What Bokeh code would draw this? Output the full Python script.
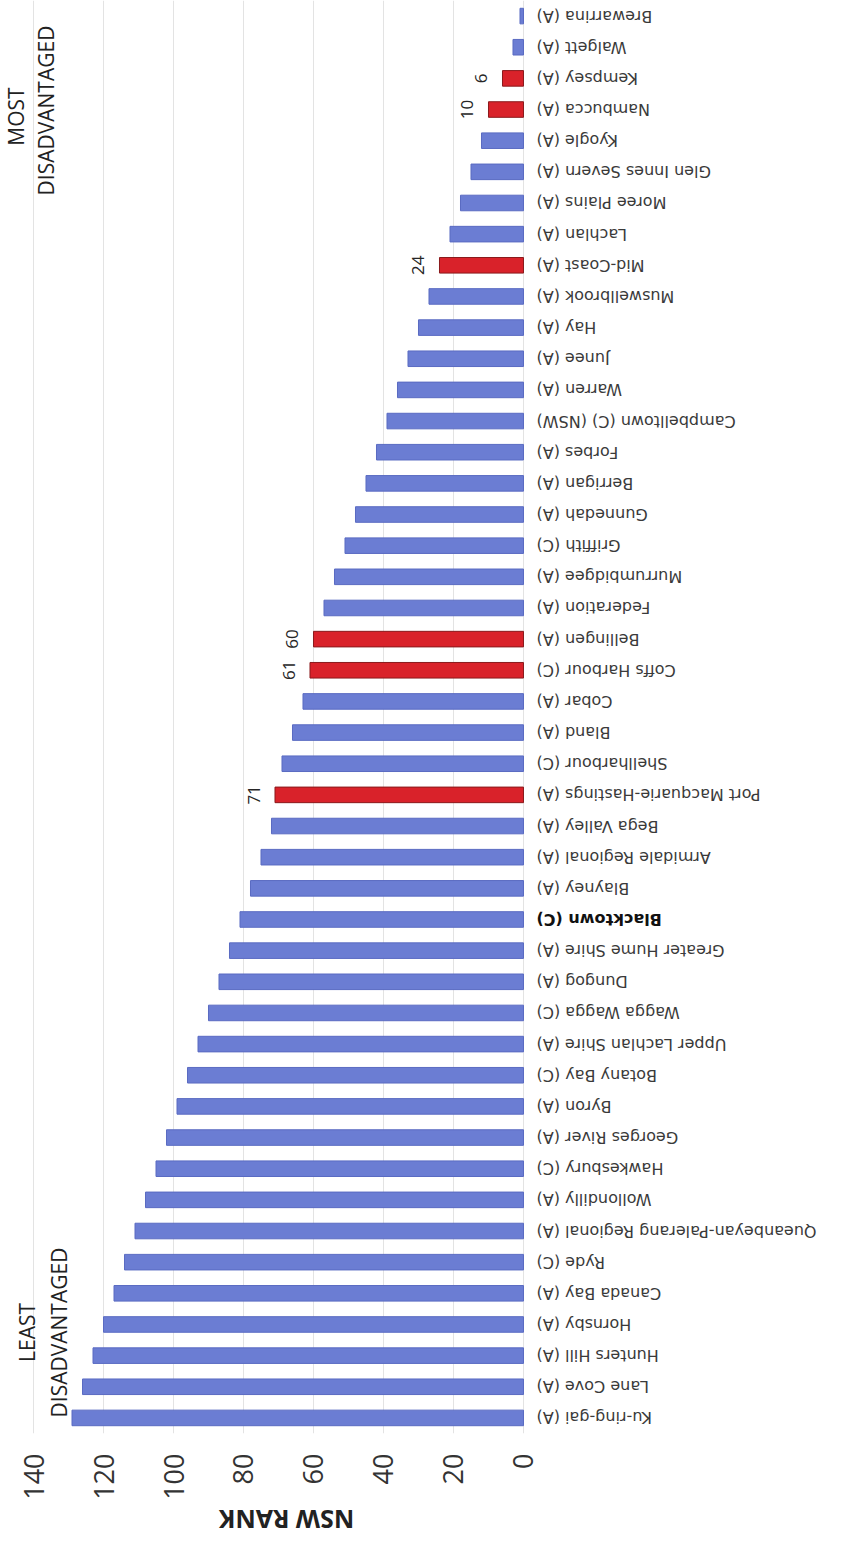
import math
from bokeh.plotting import figure
from bokeh.layouts import column
from bokeh.models import ColumnDataSource, FactorRange, Range1d, FixedTicker, Label
from bokeh.core.properties import value
from bokeh.embed import file_html
from bokeh.resources import INLINE

# Councils from most disadvantaged (top) to least disadvantaged (bottom)
councils = [
    "Brewarrina (A)", "Walgett (A)", "Kempsey (A)", "Nambucca (A)", "Kyogle (A)",
    "Glen Innes Severn (A)", "Moree Plains (A)", "Lachlan (A)", "Mid-Coast (A)",
    "Muswellbrook (A)", "Hay (A)", "Junee (A)", "Warren (A)", "Campbelltown (C) (NSW)",
    "Forbes (A)", "Berrigan (A)", "Gunnedah (A)", "Griffith (C)", "Murrumbidgee (A)",
    "Federation (A)", "Bellingen (A)", "Coffs Harbour (C)", "Cobar (A)", "Bland (A)",
    "Shellharbour (C)", "Port Macquarie-Hastings (A)", "Bega Valley (A)",
    "Armidale Regional (A)", "Blayney (A)", "Blacktown (C)", "Greater Hume Shire (A)",
    "Dungog (A)", "Wagga Wagga (C)", "Upper Lachlan Shire (A)", "Botany Bay (C)",
    "Byron (A)", "Georges River (A)", "Hawkesbury (C)", "Wollondilly (A)",
    "Queanbeyan-Palerang Regional (A)", "Ryde (C)", "Canada Bay (A)", "Hornsby (A)",
    "Hunters Hill (A)", "Lane Cove (A)", "Ku-ring-gai (A)",
]
ranks = [
    1, 3, 6, 10, 12, 15, 18, 21, 24, 27, 30, 33, 36, 39, 42, 45, 48, 51, 54, 57,
    60, 61, 63, 66, 69, 71, 72, 75, 78, 81, 84, 87, 90, 93, 96, 99, 102, 105, 108,
    111, 114, 117, 120, 123, 126, 129,
]
highlighted = ["Kempsey (A)", "Nambucca (A)", "Mid-Coast (A)", "Bellingen (A)",
               "Coffs Harbour (C)", "Port Macquarie-Hastings (A)"]
bold_councils = ["Blacktown (C)"]
tick_values = [0, 20, 40, 60, 80, 100, 120, 140]
axis_title = "NSW RANK"

BLUE, BLUE_LINE = "#6b7dd3", "#5a6bc2"
RED, RED_LINE = "#d9222a", "#8a1a1c"

src = ColumnDataSource(dict(
    council=councils,
    rank=ranks,
    fill=[RED if c in highlighted else BLUE for c in councils],
    line=[RED_LINE if c in highlighted else BLUE_LINE for c in councils],
    lcolor=["#111111" if c in bold_councils else "#3a3a3a" for c in councils],
    lstyle=["bold" if c in bold_councils else "normal" for c in councils],
))
hi_src = ColumnDataSource(dict(
    council=[c for c in councils if c in highlighted],
    rank=[r for c, r in zip(councils, ranks) if c in highlighted],
    txt=[str(r) for c, r in zip(councils, ranks) if c in highlighted],
))

p = figure(
    width=825, height=1503,
    y_range=FactorRange(factors=list(reversed(councils))),
    x_range=Range1d(149.43, -86.29),
    output_backend="svg", toolbar_location=None,
    y_axis_location=None,
    min_border_left=0, min_border_right=0, min_border_top=0, min_border_bottom=70,
)
p.outline_line_color = None
p.background_fill_color = "white"

ticker = FixedTicker(ticks=tick_values)
p.xaxis.ticker = ticker
p.xgrid.ticker = ticker
p.xgrid.grid_line_color = "#e3e3e3"
p.ygrid.grid_line_color = None
p.xaxis.axis_line_color = None
p.xaxis.major_tick_line_color = None
p.xaxis.minor_tick_line_color = None
p.xaxis.major_tick_out = 0
p.xaxis.major_tick_in = 0
p.xaxis.minor_tick_out = 0
p.xaxis.minor_tick_in = 0
p.xaxis.major_label_orientation = math.pi / 2
p.xaxis.major_label_text_font = "Open Sans"
p.xaxis.major_label_text_font_size = "27px"
p.xaxis.major_label_text_color = "#333333"
p.xaxis.major_label_standoff = 20

p.hbar(y="council", left=0, right="rank", height=0.5,
       fill_color="fill", line_color="line", line_width=1, source=src)

p.text(x=0, y="council", text="council", source=src, angle=math.pi,
       text_align="right", text_baseline="middle", x_offset=13,
       text_font=value("DejaVu Sans"), text_font_size="16px",
       text_color="lcolor", text_font_style="lstyle")

p.text(x="rank", y="council", text="txt", source=hi_src, angle=math.pi / 2,
       text_align="center", text_baseline="middle", x_offset=-21,
       text_font=value("Open Sans"), text_font_size="17px", text_color="#262626")

def lab(fig, txt, x, y, angle=math.pi / 2, size="21px", style="normal", units="screen"):
    fig.add_layout(Label(x=x, y=y, x_units=units, y_units=units, text=txt,
                         angle=angle, text_align="center", text_baseline="middle",
                         text_font="Open Sans", text_font_size=size,
                         text_font_style=style, text_color="#222222"))

lab(p, "LEAST", 26, 101)
lab(p, "DISADVANTAGED", 58, 101)
lab(p, "MOST", 15, 1317)
lab(p, "DISADVANTAGED", 45, 1323)

# Strip below the chart holding the (upside-down) value-axis title
p2 = figure(
    width=825, height=32, x_range=Range1d(0, 825), y_range=Range1d(0, 32),
    output_backend="svg", toolbar_location=None,
    x_axis_location=None, y_axis_location=None,
    min_border_left=0, min_border_right=0, min_border_top=0, min_border_bottom=0,
)
p2.outline_line_color = None
p2.xgrid.visible = False
p2.ygrid.visible = False
lab(p2, axis_title, 286, 16, angle=math.pi, size="25px", style="bold", units="data")

layout = column(p, p2, spacing=0)
open("out.html", "w").write(file_html(layout, INLINE))
